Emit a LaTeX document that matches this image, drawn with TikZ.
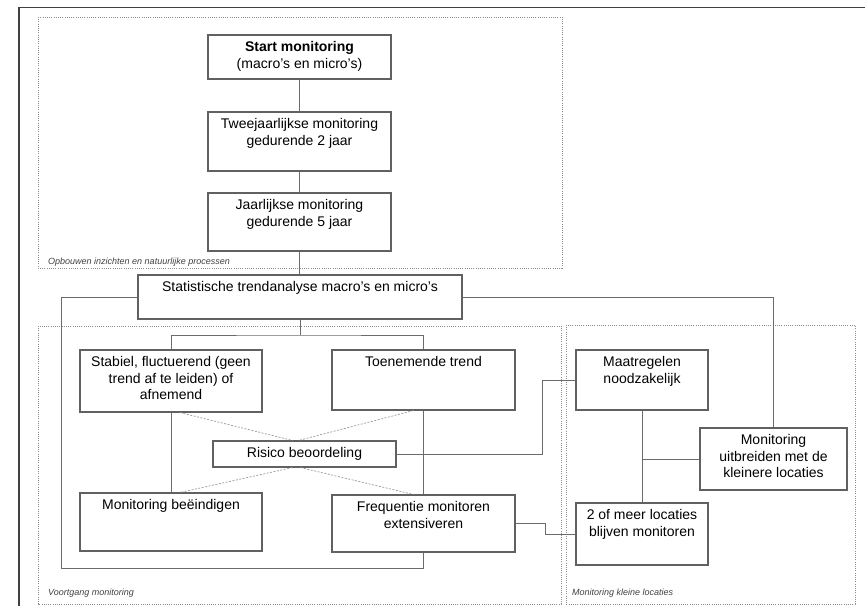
\documentclass[tikz,border=0pt]{standalone}
\usepackage{fontspec}
\setmainfont{Liberation Sans}
\newcommand{\boxtxt}[3]{\parbox[t][#2][t]{#1}{\centering\vspace{6.5pt}#3}}
\begin{document}
\begin{tikzpicture}[x=1pt,y=-1pt]
\tikzset{
  boxst/.style={draw=black!62, line width=1.1pt, inner sep=0pt, fill=white,
    font=\fontsize{14}{16.5}\selectfont},
  conn/.style={draw=black!58, line width=1pt},
  xline/.style={draw=black!40, line width=0.7pt, dash pattern=on 2pt off 1.5pt},
  grp/.style={draw=black!45, line width=0.9pt, dash pattern=on 1pt off 1.2pt},
  grplabel/.style={font=\fontsize{9}{10}\selectfont\itshape, anchor=west, inner sep=0pt, text=black!75},
}
\useasboundingbox (0,0) rectangle (865,606);
% page frame
\draw[black!75, line width=1.3pt] (865,7.5) -- (19,7.5) -- (19,606);
% groups
\draw[grp] (38,17) rectangle (562,268);
\draw[grp] (38,326) rectangle (561,604);
\draw[grp] (566,325) rectangle (855,604);
\node[grplabel] (g1) at (48,262) {Opbouwen inzichten en natuurlijke processen};
\node[grplabel] (g2) at (48,593) {Voortgang monitoring};
\node[grplabel] (g3) at (572,593) {Monitoring kleine locaties};
% boxes
\node[boxst] (start) at (299.5,57) {\boxtxt{183pt}{44pt}{\textbf{Start monitoring}\\(macro's en micro's)}};
\node[boxst] (twee) at (299.5,141.5) {\boxtxt{183pt}{59pt}{Tweejaarlijkse monitoring\\gedurende 2 jaar}};
\node[boxst] (jaar) at (299.5,222) {\boxtxt{183pt}{58pt}{Jaarlijkse monitoring\\gedurende 5 jaar}};
\node[boxst] (stat) at (300,297) {\boxtxt{324pt}{44pt}{Statistische trendanalyse macro's en micro's}};
\node[boxst] (stab) at (171,381) {\boxtxt{182pt}{62pt}{Stabiel, fluctuerend (geen\\trend af te leiden) of\\afnemend}};
\node[boxst] (toen) at (423.5,380) {\boxtxt{183pt}{60pt}{Toenemende trend}};
\node[boxst, minimum width=183pt, minimum height=26pt] (risico) at (304.5,454) {Risico beoordeling};
\node[boxst] (eind) at (171,522) {\boxtxt{182pt}{58pt}{Monitoring beëindigen}};
\node[boxst] (freq) at (423.5,523.5) {\boxtxt{183pt}{57pt}{Frequentie monitoren\\extensiveren}};
\node[boxst] (maat) at (642,380) {\boxtxt{132pt}{60pt}{Maatregelen\\noodzakelijk}};
\node[boxst] (uitb) at (773.5,459) {\boxtxt{147pt}{62pt}{Monitoring\\uitbreiden met de\\kleinere locaties}};
\node[boxst] (meer) at (642,534) {\boxtxt{132pt}{62pt}{2 of meer locaties\\blijven monitoren}};
% connectors
\draw[conn] (start.south) -- (twee.north);
\draw[conn] (twee.south) -- (jaar.north);
\draw[conn] (jaar.south) -- (jaar.south |- stat.north);
\coordinate (split) at (300,335);
\draw[conn] (stat.south) -- (split);
\draw[conn] (stab.north) |- (split) -| (toen.north);
\draw[conn] (stab.south) -- (eind.north);
\draw[conn] (toen.south) -- (freq.north);
\draw[xline] ([xshift=9pt]stab.south) -- ([xshift=-12pt]risico.north);
\draw[xline] ([xshift=-10pt]toen.south) -- ([xshift=-6pt]risico.north);
\draw[xline] ([xshift=-12pt]risico.south) -- ([xshift=9pt]eind.north);
\draw[xline] ([xshift=-4pt]risico.south) -- ([xshift=-10pt]freq.north);
\draw[conn] (risico.east) -- ++(146,0) |- (maat.west);
\draw[conn] (stat.east) -| (uitb.north);
\coordinate (lp) at (61,568);
\draw[conn] (stat.west) -| (lp) -| (freq.south);
\draw[conn] (maat.south) -- (meer.north);
\draw[conn] (uitb.west) -- (uitb.west -| maat.south);
\draw[conn] (freq.east) -- ++(30,0) |- (meer.west);
\end{tikzpicture}
\end{document}
